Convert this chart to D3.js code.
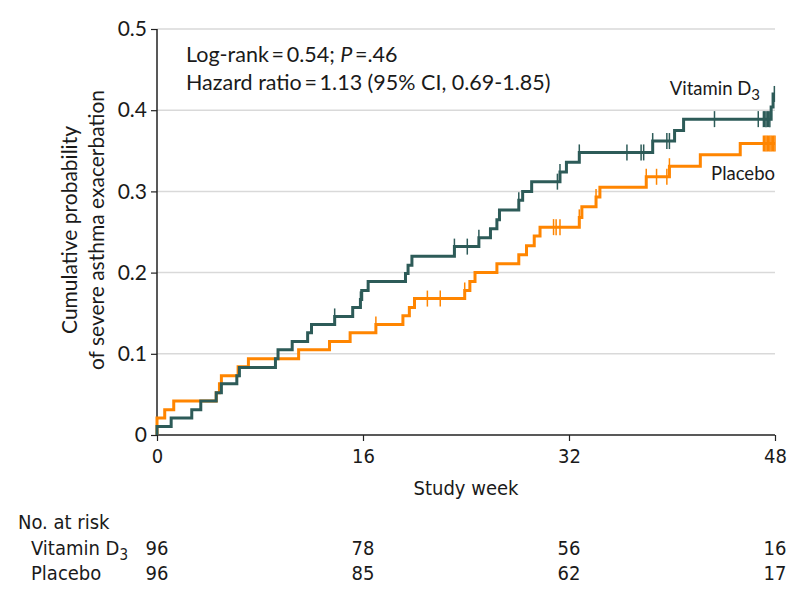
<!DOCTYPE html>
<html>
<head>
<meta charset="utf-8">
<script src="https://cdn.jsdelivr.net/npm/d3@7"></script>
<style>
  body { margin: 0; background: #fff; }
  svg text { font-family: Lato, "Open Sans", sans-serif; fill: #1a1a1a; }
  .narrow { font-family: "Liberation Sans Narrow", "DejaVu Sans Condensed", sans-serif; }
</style>
</head>
<body>
<div id="chart-area"></div>
<script>
// step data: [week, cumulative probability]
var vitaminSteps = [
  [0, 0.0104], [1.1, 0.021], [2.7, 0.031], [3.4, 0.042], [4.6, 0.052], [5.0, 0.063],
  [6.2, 0.073], [6.4, 0.083], [9.2, 0.094], [9.4, 0.105], [10.5, 0.115], [11.7, 0.126],
  [12.0, 0.136], [13.8, 0.146], [15.2, 0.157], [15.8, 0.167], [15.9, 0.178], [16.4, 0.189],
  [19.3, 0.199], [19.5, 0.209], [19.8, 0.220], [23.1, 0.232], [25.0, 0.243], [25.9, 0.254],
  [26.4, 0.265], [26.6, 0.277], [28.1, 0.289], [28.4, 0.300], [29.1, 0.312], [31.3, 0.324],
  [31.8, 0.336], [32.8, 0.348], [38.5, 0.362], [40.2, 0.375], [40.9, 0.389], [47.7, 0.404],
  [47.85, 0.420]
];
var vitaminCensored = [13.8, 15.8, 23.1, 24.1, 25.0, 28.1, 31.1, 31.3, 32.8, 36.5, 37.6, 37.8,
  38.5, 39.6, 39.8, 43.3, 46.7, 47.1, 47.2, 47.3, 47.4, 47.5, 47.6, 47.95];

var placeboSteps = [
  [0, 0.0208], [0.6, 0.031], [1.3, 0.042], [4.6, 0.052], [4.85, 0.063], [5.0, 0.073],
  [6.3, 0.084], [7.1, 0.094], [11.0, 0.105], [13.4, 0.115], [15.0, 0.126], [17.0, 0.136],
  [19.1, 0.147], [19.6, 0.157], [20.0, 0.168], [23.9, 0.178], [24.3, 0.189], [24.7, 0.200],
  [26.4, 0.211], [28.1, 0.222], [28.7, 0.233], [29.3, 0.245], [29.75, 0.256], [32.8, 0.268],
  [33.0, 0.281], [34.1, 0.293], [34.4, 0.305], [38.0, 0.318], [39.8, 0.331], [42.2, 0.345],
  [45.3, 0.359]
];
var placeboCensored = [17.0, 21.0, 22.0, 23.9, 30.8, 31.0, 31.3, 32.8, 34.1, 38.0, 38.8, 39.6,
  39.8, 47.1, 47.2, 47.3, 47.4, 47.5, 47.6, 47.7, 47.8, 47.9, 48.0];

var xTicks = [0, 16, 32, 48];
var yTicks = [0, 0.1, 0.2, 0.3, 0.4, 0.5];
var riskVitamin = [96, 78, 56, 16];
var riskPlacebo = [96, 85, 62, 17];

var tealColor = "#2d5b58";
var orangeColor = "#ff8500";

var svg = d3.select("#chart-area").append("svg")
    .attr("width", 798)
    .attr("height", 600);

var x = d3.scaleLinear().domain([0, 48]).range([157, 775]);
var y = d3.scaleLinear().domain([0, 0.5]).range([435, 29]);

// gridlines
svg.append("g").selectAll("line")
    .data(yTicks.filter(function(d){ return d > 0; }))
    .enter().append("line")
      .attr("x1", x(0)).attr("x2", x(48))
      .attr("y1", function(d){ return y(d); })
      .attr("y2", function(d){ return y(d); })
      .attr("stroke", "#d9d9d9")
      .attr("stroke-width", 1.5);

// axes
var yAxis = d3.axisLeft(y).tickValues(yTicks).tickSize(6).tickPadding(4)
    .tickFormat(function(d){ return d === 0 ? "0" : d3.format(".1f")(d); });
var gy = svg.append("g").attr("transform", "translate(" + x(0) + ",0)").call(yAxis);
gy.select(".domain").remove();
gy.selectAll("line").attr("stroke", "#222").attr("stroke-width", 1.2);
gy.selectAll("text").attr("font-size", 21).attr("font-family", "Lato");

var xAxis = d3.axisBottom(x).tickValues(xTicks).tickSize(6).tickPadding(8);
var gx = svg.append("g").attr("transform", "translate(0," + y(0) + ")").call(xAxis);
gx.select(".domain").remove();
gx.selectAll("line").attr("stroke", "#222").attr("stroke-width", 1.2);
gx.selectAll("text").attr("font-size", 20).attr("class", "narrow");

svg.append("line")
    .attr("x1", x(0)).attr("x2", x(0)).attr("y1", y(0) + 1).attr("y2", y(0.5))
    .attr("stroke", "#222").attr("stroke-width", 1.5);
svg.append("line")
    .attr("x1", x(0)).attr("x2", x(48)).attr("y1", y(0)).attr("y2", y(0))
    .attr("stroke", "#222").attr("stroke-width", 1.5);

// step curves
function levelAt(steps, t) {
  var v = 0;
  steps.forEach(function(s){ if (s[0] <= t) v = s[1]; });
  return v;
}

var line = d3.line()
    .x(function(d){ return x(d[0]); })
    .y(function(d){ return y(d[1]); })
    .curve(d3.curveStepAfter);

function drawCurve(steps, censored, color) {
  var endT = d3.max(censored);
  var pts = [[0, 0]].concat(steps);
  pts.push([endT, levelAt(steps, endT)]);
  svg.append("path")
      .datum(pts)
      .attr("fill", "none")
      .attr("stroke", color)
      .attr("stroke-width", 3)
      .attr("d", line);

  svg.append("g").selectAll("line")
      .data(censored)
      .enter().append("line")
        .attr("x1", function(d){ return x(d); })
        .attr("x2", function(d){ return x(d); })
        .attr("y1", function(d){ return y(levelAt(steps, d)) - 8; })
        .attr("y2", function(d){ return y(levelAt(steps, d)) + 8; })
        .attr("stroke", color)
        .attr("stroke-width", 1.5);
}

drawCurve(placeboSteps, placeboCensored, orangeColor);
drawCurve(vitaminSteps, vitaminCensored, tealColor);

// annotation
var note = svg.append("text").attr("x", 186).attr("y", 62).attr("font-size", 21.5);
note.append("tspan").text("Log-rank\u2009=\u20090.54; ");
note.append("tspan").attr("font-style", "italic").text("P");
note.append("tspan").text("\u2009=.46");
svg.append("text").attr("x", 186).attr("y", 90).attr("font-size", 21.5)
    .text("Hazard ratio\u2009=\u20091.13 (95% CI, 0.69-1.85)");

// curve labels
var vLab = svg.append("text").attr("x", 760).attr("y", 95).attr("font-size", 18.5)
    .attr("text-anchor", "end");
vLab.append("tspan").text("Vitamin D");
vLab.append("tspan").attr("dy", 5).attr("font-size", 15).text("3");
svg.append("text").attr("x", 775).attr("y", 180).attr("font-size", 18.5)
    .attr("text-anchor", "end").text("Placebo");

// axis titles
svg.append("text").attr("class", "narrow")
    .attr("x", x(24)).attr("y", 495).attr("font-size", 20)
    .attr("text-anchor", "middle").text("Study week");

var yl = svg.append("text")
    .attr("transform", "translate(77,230) rotate(-90)")
    .attr("text-anchor", "middle").attr("font-size", 21);
yl.append("tspan").attr("x", 0).attr("y", 0).text("Cumulative probability");
yl.append("tspan").attr("x", 0).attr("y", 27).text("of severe asthma exacerbation");

// number at risk table
svg.append("text").attr("class", "narrow").attr("x", 18).attr("y", 529)
    .attr("font-size", 20).text("No. at risk");
var r1 = svg.append("text").attr("class", "narrow").attr("x", 31).attr("y", 555)
    .attr("font-size", 20);
r1.append("tspan").text("Vitamin D");
r1.append("tspan").attr("dy", 5).attr("font-size", 15).text("3");
svg.append("text").attr("class", "narrow").attr("x", 31).attr("y", 580)
    .attr("font-size", 20).text("Placebo");

svg.append("g").selectAll("text")
    .data(riskVitamin)
    .enter().append("text")
      .attr("class", "narrow")
      .attr("x", function(d, i){ return x(xTicks[i]); })
      .attr("y", 555)
      .attr("font-size", 20)
      .attr("text-anchor", "middle")
      .text(function(d){ return d; });
svg.append("g").selectAll("text")
    .data(riskPlacebo)
    .enter().append("text")
      .attr("class", "narrow")
      .attr("x", function(d, i){ return x(xTicks[i]); })
      .attr("y", 580)
      .attr("font-size", 20)
      .attr("text-anchor", "middle")
      .text(function(d){ return d; });
</script>
</body>
</html>
